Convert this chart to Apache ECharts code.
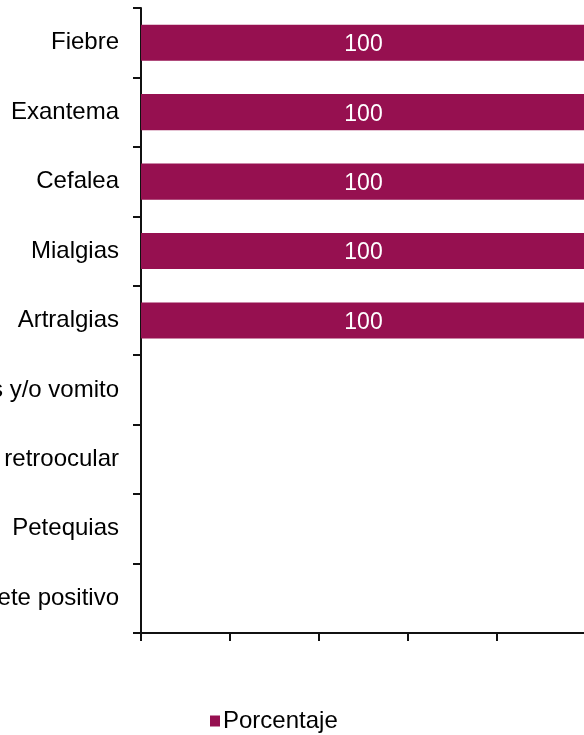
<!DOCTYPE html>
<html>
<head>
<meta charset="utf-8">
<script src="https://cdn.jsdelivr.net/npm/echarts@6/dist/echarts.min.js"></script>
<style>
  html, body { margin: 0; padding: 0; background: #fff; }
  #chart { width: 584px; height: 735px; }
</style>
</head>
<body>
<div id="chart"></div>
<script>
// categorias (de arriba hacia abajo)
var sintomas = ['Fiebre', 'Exantema', 'Cefalea', 'Mialgias', 'Artralgias',
                'Nauseas y/o vomito', 'Dolor retroocular', 'Petequias', 'Torniquete positivo'];
var porcentaje = [100, 100, 100, 100, 100, 0, 0, 0, 0];
var serieNombre = 'Porcentaje';

var myChart = echarts.init(document.getElementById('chart'));
var fuente = 'Liberation Sans, Arial, sans-serif';

var option = {
    animation: false,
    grid: {
        left: 141,
        right: -2,
        top: 8,
        bottom: 102,
        containLabel: false,
        outerBoundsMode: 'none'
    },
    legend: {
        data: [serieNombre],
        left: 205,
        bottom: -3,
        itemWidth: 10,
        itemHeight: 11,
        itemGap: 4,
        icon: 'rect',
        textStyle: { fontFamily: fuente, fontSize: 24, color: '#000', padding: [0, 0, 0, -2] }
    },
    xAxis: {
        type: 'value',
        min: 0,
        max: 100,
        interval: 20,
        axisLine: { show: true, lineStyle: { color: '#111', width: 2 } },
        axisTick: { show: true, length: 8, lineStyle: { color: '#111', width: 2 } },
        axisLabel: { show: false },
        splitLine: { show: false }
    },
    yAxis: {
        type: 'category',
        inverse: true,
        data: sintomas,
        axisLine: { show: true, lineStyle: { color: '#111', width: 2 } },
        axisTick: { show: true, length: 8, lineStyle: { color: '#111', width: 2 } },
        axisLabel: {
            margin: 22,
            fontFamily: fuente,
            fontSize: 24,
            color: '#000'
        }
    },
    series: [
        {
            name: serieNombre,
            type: 'bar',
            data: porcentaje,
            barCategoryGap: '48%',
            itemStyle: { color: '#961050' },
            label: {
                show: true,
                position: 'inside',
                color: '#fff',
                fontFamily: fuente,
                fontSize: 23,
                offset: [0, 2],
                formatter: function (p) { return p.value ? p.value : ''; }
            }
        }
    ]
};
myChart.setOption(option);
</script>
</body>
</html>
